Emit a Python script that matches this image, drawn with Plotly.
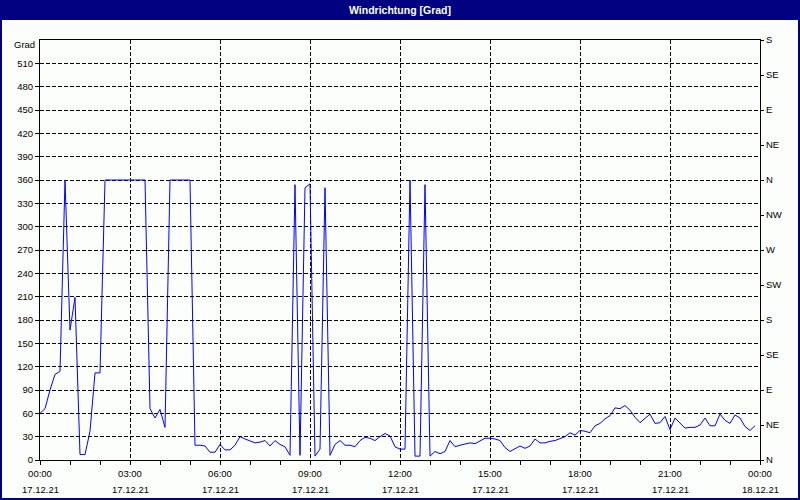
import plotly.graph_objects as go
import pandas as pd

# ---- data -------------------------------------------------------------
start_time = "2021-12-17 00:00"
end_time = "2021-12-18 00:00"
times = pd.date_range(start_time, periods=144, freq="10min")

direction = [
    60, 66, 90, 110, 114, 360, 167, 209, 7, 7,
    37, 112, 112, 360, 360, 360, 360, 360, 360, 360,
    360, 360, 66, 54, 65, 42, 360, 360, 360, 360,
    360, 19, 19, 18, 10, 10, 20, 13, 13, 19,
    30, 27, 24, 22, 23, 25, 18, 25, 20, 17,
    6, 354, 6, 350, 355, 5, 14, 350, 6, 20,
    25, 19, 19, 17, 25, 29, 28, 25, 30, 34,
    31, 17, 14, 14, 360, 5, 5, 354, 5, 11,
    8, 11, 25, 17, 19, 21, 22, 21, 25, 28,
    28, 27, 25, 16, 11, 15, 18, 15, 18, 27,
    22, 22, 24, 25, 28, 30, 35, 32, 38, 37,
    35, 44, 47, 53, 57, 67, 66, 70, 64, 55,
    48, 53, 59, 47, 48, 56, 39, 54, 48, 41,
    42, 42, 45, 54, 44, 44, 59, 51, 47, 58,
    54, 43, 38, 44,
]

tick_times = [
    "2021-12-17 00:00", "2021-12-17 03:00", "2021-12-17 06:00",
    "2021-12-17 09:00", "2021-12-17 12:00", "2021-12-17 15:00",
    "2021-12-17 18:00", "2021-12-17 21:00", "2021-12-18 00:00",
]
tick_time_labels = ["00:00", "03:00", "06:00", "09:00", "12:00",
                    "15:00", "18:00", "21:00", "00:00"]
tick_date_labels = ["17.12.21"] * 8 + ["18.12.21"]

left_ticks = list(range(0, 511, 30))
right_ticks = list(range(0, 541, 45))
right_labels = ["N", "NE", "E", "SE", "S", "SW", "W", "NW",
                "N", "NE", "E", "SE", "S"]

# ---- styling ----------------------------------------------------------
BG = "#FBFEFB"
NAVY = "#000080"
FONT = "Liberation Sans, Arial, sans-serif"
W, H = 800, 500
L, R, T, B = 40, 40, 40, 40
PW, PH = W - L - R, H - T - B


def px_x(p):
    return (p - L) / PW


def px_y(p):
    return (H - B - p) / PH


fig = go.Figure()
fig.add_trace(go.Scatter(
    x=times, y=direction, mode="lines",
    line=dict(color="#0000FF", width=1),
    hoverinfo="skip", showlegend=False,
))
fig.add_trace(go.Scatter(
    x=[times[0]], y=[0], yaxis="y2", mode="markers",
    marker=dict(opacity=0), hoverinfo="skip", showlegend=False,
))

fig.update_layout(
    width=W, height=H,
    margin=dict(l=L, r=R, t=T, b=B),
    paper_bgcolor=BG, plot_bgcolor=BG,
    showlegend=False,
    font=dict(family=FONT, size=9.5, color="black"),
    xaxis=dict(
        type="date", range=[start_time, end_time],
        tickvals=tick_times, ticktext=tick_time_labels,
        ticks="outside", ticklen=4, tickcolor="black", tickwidth=1,
        showline=True, linecolor="black", linewidth=1, mirror=True,
        showgrid=True, gridcolor="black", gridwidth=1, griddash="4px,2px",
        zeroline=False,
        minor=dict(dtick=3600000, ticks="outside", ticklen=4,
                   tickcolor="black", showgrid=False),
        tickfont=dict(family=FONT, size=9.5),
        ticklabelstandoff=1,
        automargin=False,
    ),
    yaxis=dict(
        range=[0, 540], tickvals=left_ticks,
        ticks="outside", ticklen=4, tickcolor="black",
        showline=True, linecolor="black", linewidth=1, mirror=True,
        showgrid=True, gridcolor="black", gridwidth=1, griddash="4px,2px",
        zeroline=False,
        tickfont=dict(family=FONT, size=9.5),
        automargin=False,
    ),
    yaxis2=dict(
        overlaying="y", side="right", range=[0, 540],
        tickvals=right_ticks, ticktext=right_labels,
        ticks="outside", ticklen=3, tickcolor="black",
        showline=False, showgrid=False, zeroline=False,
        tickfont=dict(family=FONT, size=9.5),
        automargin=False,
    ),
)

shapes = [
    dict(type="rect", xref="paper", yref="paper",
         x0=px_x(0), x1=px_x(W), y0=px_y(20), y1=px_y(0),
         fillcolor=NAVY, line=dict(width=0), layer="above"),
    dict(type="rect", xref="paper", yref="paper",
         x0=px_x(1), x1=px_x(W - 1), y0=px_y(H - 1), y1=px_y(1),
         fillcolor="rgba(0,0,0,0)", line=dict(color=NAVY, width=2),
         layer="above"),
]
fig.update_layout(shapes=shapes)

annotations = [
    dict(text="<b>Windrichtung [Grad]</b>", xref="paper", yref="paper",
         x=0.5, y=px_y(10), xanchor="center", yanchor="middle",
         showarrow=False, font=dict(family=FONT, size=10.5, color="white")),
    dict(text="Grad", xref="paper", yref="paper",
         x=px_x(37), y=px_y(45), xanchor="right", yanchor="middle",
         showarrow=False, font=dict(family=FONT, size=9.5, color="black")),
]
for t, d in zip(tick_times, tick_date_labels):
    annotations.append(dict(
        text=d, x=t, xref="x", yref="paper", y=px_y(489),
        xanchor="center", yanchor="middle", showarrow=False,
        font=dict(family=FONT, size=9.5, color="black")))
fig.update_layout(annotations=annotations)

fig.write_html(
    "out.html",
    config={"displayModeBar": False, "staticPlot": True},
    post_script="document.body.style.margin='0';document.body.style.padding='0';",
)
